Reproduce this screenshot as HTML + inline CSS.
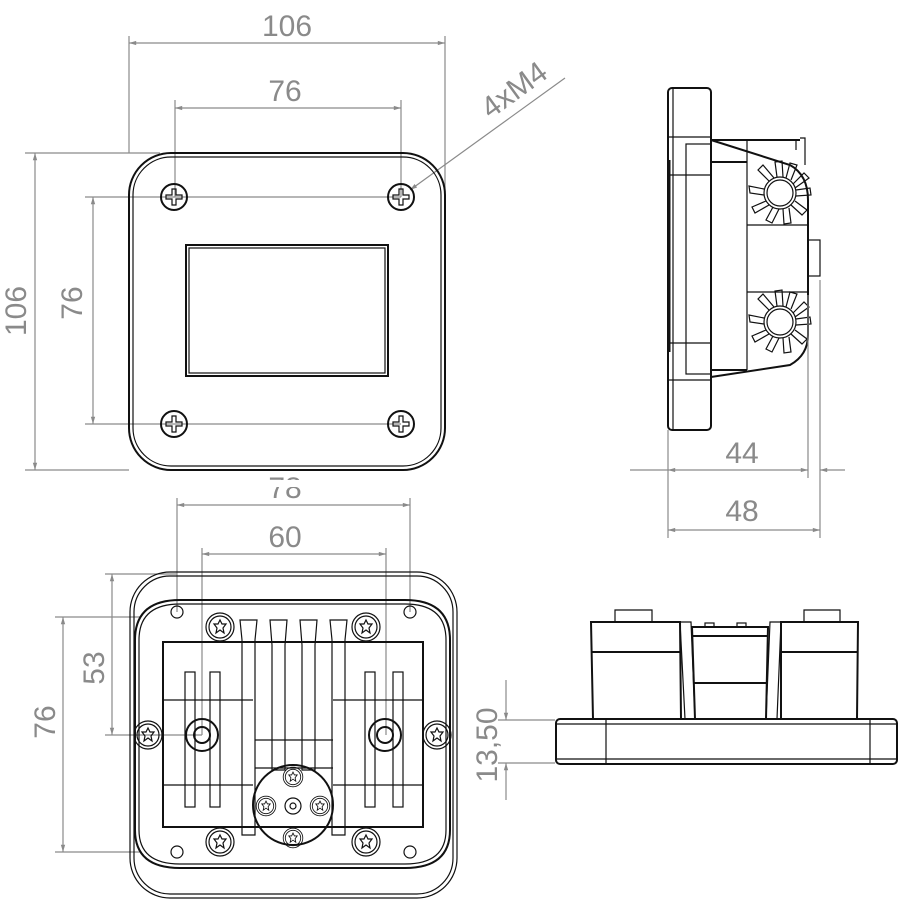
<!DOCTYPE html>
<html><head><meta charset="utf-8"><style>
html,body{margin:0;padding:0;background:#fff;width:916px;height:912px;overflow:hidden}
svg{display:block}
.d{stroke:#8a8a8a;stroke-width:1.2;fill:none}
.t{font-family:"Liberation Sans",sans-serif;fill:#8a8a8a;font-size:30px;text-anchor:middle}
.k{stroke:#111;stroke-width:2;fill:none}
.k1{stroke:#111;stroke-width:1.2;fill:none}
</style></head><body>
<svg width="916" height="912" viewBox="0 0 916 912" xmlns="http://www.w3.org/2000/svg">
<defs>
<marker id="a" viewBox="0 0 10 10" refX="10" refY="5" markerWidth="10" markerHeight="6" orient="auto-start-reverse"><path d="M0,2 L10,5 L0,8z" fill="#8a8a8a"/></marker>
<g id="scr"><circle r="13" class="k"/><path d="M-2,-8 h4 v6 h6 v4 h-6 v6 h-4 v-6 h-6 v-4 h6z" class="k1"/></g>
<g id="torx"><circle r="14" class="k1"/><circle r="11" class="k1"/><path d="M0,-7 L2,-3 6,-3 3,1 4,6 0,3 -4,6 -3,1 -6,-3 -2,-3z" class="k1"/></g>
<g id="gear"><circle r="13" class="k1"/><circle r="16" class="k1"/>
<g class="k1"><path d="M16,-3 L30,-5 L31,2 L16,3"/><path d="M13,-9 L24,-20 L29,-15 L15,-5"/><path d="M6,-15 L10,-30 L17,-28 L11,-13"/><path d="M-3,-16 L-5,-31 L2,-32 L3,-16"/><path d="M-11,-12 L-22,-23 L-17,-28 L-6,-15"/><path d="M-16,-4 L-31,-7 L-30,0 L-16,2"/><path d="M-14,8 L-28,14 L-25,20 L-11,12"/><path d="M-7,14 L-14,27 L-8,30 L-1,16"/><path d="M3,16 L4,31 L11,30 L9,15"/><path d="M11,12 L22,22 L27,17 L15,8"/></g></g>
</defs>

<!-- TOP-LEFT FRONT VIEW -->
<line x1="129" y1="36" x2="129" y2="153" class="d"/><line x1="445" y1="36" x2="445" y2="190" class="d"/>
<line x1="129" y1="43" x2="445" y2="43" class="d" marker-start="url(#a)" marker-end="url(#a)"/>
<text x="287" y="36" class="t">106</text>
<line x1="175" y1="100" x2="175" y2="197" class="d"/><line x1="401" y1="100" x2="401" y2="197" class="d"/>
<line x1="175" y1="108" x2="401" y2="108" class="d" marker-start="url(#a)" marker-end="url(#a)"/>
<text x="285" y="101" class="t">76</text>
<line x1="25" y1="153" x2="160" y2="153" class="d"/><line x1="25" y1="470" x2="129" y2="470" class="d"/>
<line x1="35" y1="153" x2="35" y2="470" class="d" marker-start="url(#a)" marker-end="url(#a)"/>
<text transform="translate(26,311) rotate(-90)" class="t">106</text>
<line x1="85" y1="197" x2="401" y2="197" class="d"/><line x1="85" y1="424" x2="401" y2="424" class="d"/>
<line x1="93" y1="197" x2="93" y2="424" class="d" marker-start="url(#a)" marker-end="url(#a)"/>
<text transform="translate(82,303) rotate(-90)" class="t">76</text>
<line x1="565" y1="78" x2="410" y2="190" class="d" marker-end="url(#a)"/>
<text transform="translate(520,98) rotate(-36)" class="t">4xM4</text>
<rect x="129" y="153" width="316" height="317" rx="42" class="k"/>
<rect x="133" y="157" width="308" height="309" rx="38" class="k1"/>
<rect x="186" y="245" width="202" height="131" class="k"/>
<rect x="189" y="248" width="196" height="125" class="k1"/>
<use href="#scr" x="174" y="197"/><use href="#scr" x="401" y="197"/><use href="#scr" x="174" y="424"/><use href="#scr" x="401" y="424"/>

<!-- TOP-RIGHT SIDE VIEW -->
<rect x="668" y="88" width="43" height="342" rx="4" class="k"/>
<line x1="673" y1="88" x2="673" y2="430" class="k1"/>
<line x1="668" y1="137" x2="711" y2="137" class="k1"/><line x1="668" y1="380" x2="711" y2="380" class="k1"/>
<line x1="668" y1="175" x2="711" y2="175" class="k1"/><line x1="668" y1="343" x2="711" y2="343" class="k1"/>
<rect x="686" y="144" width="25" height="230" class="k1"/>
<line x1="669" y1="160" x2="669" y2="352" stroke="#111" stroke-width="3"/>
<path d="M711,140 L800,140 M711,162 L747,162 M711,370 L747,370 M711,140 L790,165 Q808,175 808,200 L808,335 Q808,355 790,365 L711,377" class="k"/>
<line x1="747" y1="162" x2="747" y2="370" class="k1"/>
<line x1="747" y1="225" x2="808" y2="225" class="k1"/><line x1="747" y1="292" x2="808" y2="292" class="k1"/>
<line x1="747" y1="140" x2="747" y2="162" class="k1"/>
<path d="M796,140 L796,150 M800,138 L805,138 L805,165" class="k1"/>
<rect x="808" y="240" width="12" height="36" class="k1"/>
<use href="#gear" x="780" y="193"/><use href="#gear" x="780" y="322"/>
<line x1="668" y1="430" x2="668" y2="538" class="d"/><line x1="808" y1="295" x2="808" y2="478" class="d"/><line x1="820" y1="280" x2="820" y2="538" class="d"/>
<line x1="630" y1="470" x2="668" y2="470" class="d"/>
<line x1="668" y1="470" x2="808" y2="470" class="d" marker-start="url(#a)" marker-end="url(#a)"/>
<line x1="820" y1="470" x2="845" y2="470" class="d" marker-start="url(#a)"/>
<text x="742" y="463" class="t">44</text>
<line x1="668" y1="530" x2="820" y2="530" class="d" marker-start="url(#a)" marker-end="url(#a)"/>
<text x="742" y="521" class="t">48</text>

<!-- BOTTOM-LEFT REAR VIEW -->
<text x="285" y="498" class="t">78</text>
<rect x="150" y="480" width="270" height="7" fill="#fff"/>
<line x1="177" y1="498" x2="177" y2="612" class="d"/><line x1="410" y1="498" x2="410" y2="612" class="d"/>
<line x1="177" y1="505" x2="410" y2="505" class="d" marker-start="url(#a)" marker-end="url(#a)"/>
<line x1="202" y1="548" x2="202" y2="735" class="d"/><line x1="386" y1="548" x2="386" y2="735" class="d"/>
<line x1="202" y1="554" x2="386" y2="554" class="d" marker-start="url(#a)" marker-end="url(#a)"/>
<text x="285" y="547" class="t">60</text>
<line x1="105" y1="574" x2="177" y2="574" class="d"/><line x1="105" y1="735" x2="202" y2="735" class="d"/>
<line x1="112" y1="574" x2="112" y2="735" class="d" marker-start="url(#a)" marker-end="url(#a)"/>
<text transform="translate(104,668) rotate(-90)" class="t">53</text>
<line x1="55" y1="617" x2="140" y2="617" class="d"/><line x1="55" y1="852" x2="140" y2="852" class="d"/>
<line x1="63" y1="617" x2="63" y2="852" class="d" marker-start="url(#a)" marker-end="url(#a)"/>
<text transform="translate(55,722) rotate(-90)" class="t">76</text>
<rect x="130" y="572" width="327" height="326" rx="40" class="k1"/>
<rect x="134" y="576" width="319" height="318" rx="36" class="k1"/>
<path d="M180,600 H405 Q450,600 450,640 V830 Q450,868 405,868 H180 Q135,868 135,830 V640 Q135,600 180,600z" class="k"/>
<path d="M180,604 H405 Q446,604 446,640 V830 Q446,864 405,864 H180 Q139,864 139,830 V640 Q139,604 180,604z" class="k1"/>
<circle cx="177" cy="612" r="6" class="k1"/><circle cx="410" cy="612" r="6" class="k1"/><circle cx="177" cy="852" r="6" class="k1"/><circle cx="410" cy="852" r="6" class="k1"/>
<rect x="163" y="642" width="260" height="185" class="k"/>
<line x1="163" y1="700" x2="253" y2="700" class="k1"/><line x1="163" y1="785" x2="253" y2="785" class="k1"/>
<line x1="333" y1="700" x2="423" y2="700" class="k1"/><line x1="333" y1="785" x2="423" y2="785" class="k1"/>
<rect x="185" y="672" width="10" height="135" class="k1"/><rect x="210" y="672" width="10" height="135" class="k1"/>
<rect x="365" y="672" width="10" height="135" class="k1"/><rect x="393" y="672" width="10" height="135" class="k1"/>
<path d="M240,620 H257 L255,640 V835 H242 L242,640z" class="k1"/>
<path d="M270,620 H287 L285,645 V770 H272 V645z" class="k1"/>
<path d="M300,620 H317 L315,645 V770 H302 V645z" class="k1"/>
<path d="M330,620 H347 L345,640 V835 H332 L332,640z" class="k1"/>
<line x1="255" y1="740" x2="333" y2="740" class="k1"/><line x1="255" y1="768" x2="333" y2="768" class="k1"/>
<circle cx="293" cy="805" r="40" class="k"/>
<use href="#torx" x="220" y="627" transform="translate(0,0)"/><use href="#torx" x="366" y="627"/>
<use href="#torx" x="220" y="842"/><use href="#torx" x="366" y="842"/>
<use href="#torx" x="148" y="735"/><use href="#torx" x="437" y="735"/>
<circle cx="202" cy="735" r="16" class="k"/><circle cx="202" cy="735" r="8" class="k"/>
<circle cx="385" cy="735" r="16" class="k"/><circle cx="385" cy="735" r="8" class="k"/>
<g transform="translate(293,777) scale(0.7)"><use href="#torx"/></g>
<g transform="translate(293,838) scale(0.7)"><use href="#torx"/></g>
<g transform="translate(266,806) scale(0.7)"><use href="#torx"/></g>
<g transform="translate(320,806) scale(0.7)"><use href="#torx"/></g>
<circle cx="293" cy="806" r="8" class="k1"/><circle cx="293" cy="806" r="3" class="k1"/>

<!-- BOTTOM-RIGHT SIDE VIEW -->
<rect x="556" y="719" width="341" height="45" rx="4" class="k"/>
<line x1="557" y1="724" x2="896" y2="724" class="k1"/><line x1="557" y1="759" x2="896" y2="759" class="k1"/>
<line x1="606" y1="719" x2="606" y2="764" class="k1"/><line x1="870" y1="719" x2="870" y2="764" class="k1"/>
<path d="M593,719 L591,622 H680 L681,719 M591,652 H680" class="k"/>
<path d="M615,622 V610 H652 V622" class="k1"/>
<path d="M680,622 L685,719 M680,622 H691 L695,719" class="k1"/>
<path d="M695,719 L692,627 H768 L766,719 M692,636 H768 M694,683 H766" class="k"/>
<path d="M766,719 L770,622 H781 L777,719" class="k1"/>
<path d="M781,719 L781,622 H858 L857,719 M781,652 H858" class="k"/>
<path d="M804,622 V610 H840 V622" class="k1"/>
<rect x="705" y="623" width="9" height="4" class="k1"/><rect x="737" y="623" width="9" height="4" class="k1"/>
<line x1="498" y1="720" x2="555" y2="720" class="d"/><line x1="498" y1="763" x2="555" y2="763" class="d"/>
<line x1="506" y1="680" x2="506" y2="720" class="d" marker-end="url(#a)"/>
<line x1="506" y1="800" x2="506" y2="763" class="d" marker-end="url(#a)"/>
<text transform="translate(497,745) rotate(-90)" class="t">13,50</text>
</svg>
</body></html>
